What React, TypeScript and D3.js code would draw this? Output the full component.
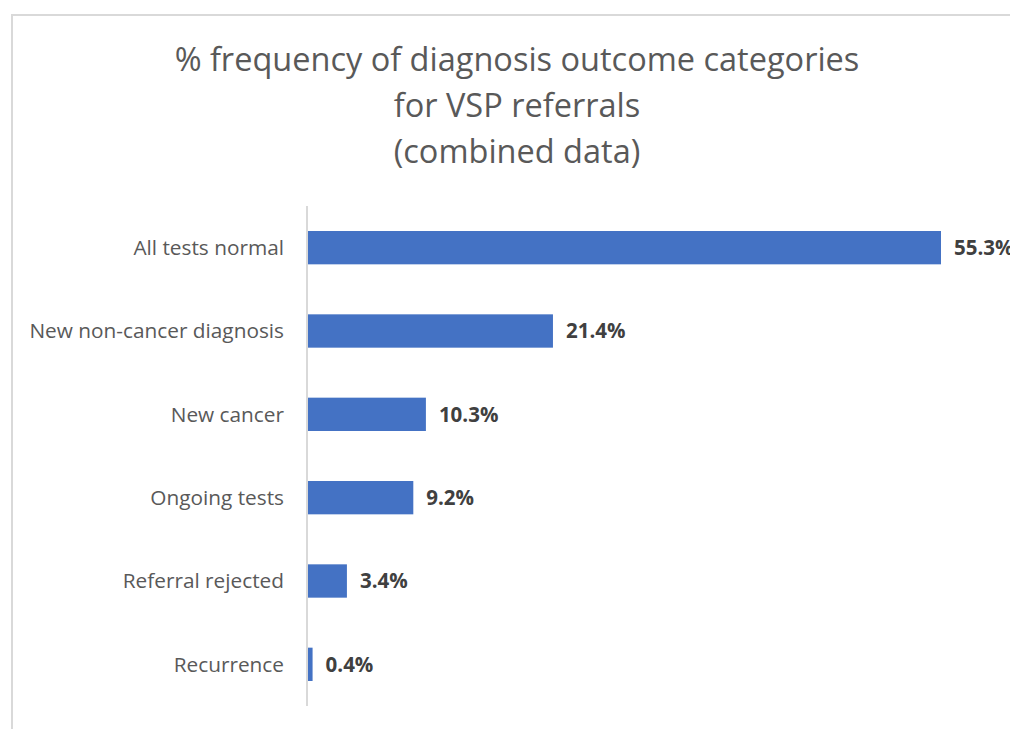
import React, { useEffect, useRef } from 'react';
import * as d3 from 'd3';

const categories = ['All tests normal', 'New non-cancer diagnosis', 'New cancer', 'Ongoing tests', 'Referral rejected', 'Recurrence'];
const values = [55.3, 21.4, 10.3, 9.2, 3.4, 0.4];
const titleLines = ['% frequency of diagnosis outcome categories', 'for VSP referrals', '(combined data)'];

const width = 1010;
const height = 729;
const font = '"Open Sans", "Noto Sans", sans-serif';

export default function App() {
  const ref = useRef<SVGSVGElement>(null);

  useEffect(() => {
    const svg = d3.select(ref.current);
    svg.selectAll('*').remove();

    // chart area frame
    svg.append('rect')
      .attr('x', 12).attr('y', 15)
      .attr('width', 1100).attr('height', 800)
      .attr('fill', 'white')
      .attr('stroke', '#d9d9d9')
      .attr('stroke-width', 2);

    svg.append('text')
      .attr('text-anchor', 'middle')
      .attr('font-family', font)
      .attr('font-size', 32.5)
      .attr('fill', '#595959')
      .selectAll('tspan')
      .data(titleLines)
      .enter()
      .append('tspan')
      .attr('x', 517)
      .attr('y', (d, i) => 71 + i * 46)
      .text(d => d);

    const x = d3.scaleLinear().domain([0, 55.3]).range([308, 941]);
    const y = d3.scaleBand().domain(categories).range([206, 706]).paddingInner(0.6).paddingOuter(0.3);

    const g = svg.append('g');

    g.selectAll('rect.bar')
      .data(values)
      .enter()
      .append('rect')
      .attr('class', 'bar')
      .attr('x', x(0))
      .attr('y', (d, i) => y(categories[i])!)
      .attr('width', d => x(d) - x(0))
      .attr('height', y.bandwidth())
      .attr('fill', '#4472c4');

    // axis line
    svg.append('line')
      .attr('x1', 307).attr('x2', 307)
      .attr('y1', 206).attr('y2', 706)
      .attr('stroke', '#d9d9d9')
      .attr('stroke-width', 2);

    g.selectAll('text.cat')
      .data(categories)
      .enter()
      .append('text')
      .attr('class', 'cat')
      .attr('x', 284)
      .attr('y', d => y(d)! + y.bandwidth() / 2)
      .attr('dy', '0.35em')
      .attr('text-anchor', 'end')
      .attr('font-family', font)
      .attr('font-size', 20.8)
      .attr('fill', '#595959')
      .text(d => d);

    g.selectAll('text.val')
      .data(values)
      .enter()
      .append('text')
      .attr('class', 'val')
      .attr('x', d => x(d) + 13)
      .attr('y', (d, i) => y(categories[i])! + y.bandwidth() / 2)
      .attr('dy', '0.35em')
      .attr('font-family', font)
      .attr('font-size', 20.5)
      .attr('font-weight', 'bold')
      .attr('fill', '#404040')
      .text(d => d.toFixed(1) + '%');
  }, []);

  return (
    <svg ref={ref} width={width} height={height} style={{ position: 'absolute', left: 0, top: 0 }} />
  );
}
